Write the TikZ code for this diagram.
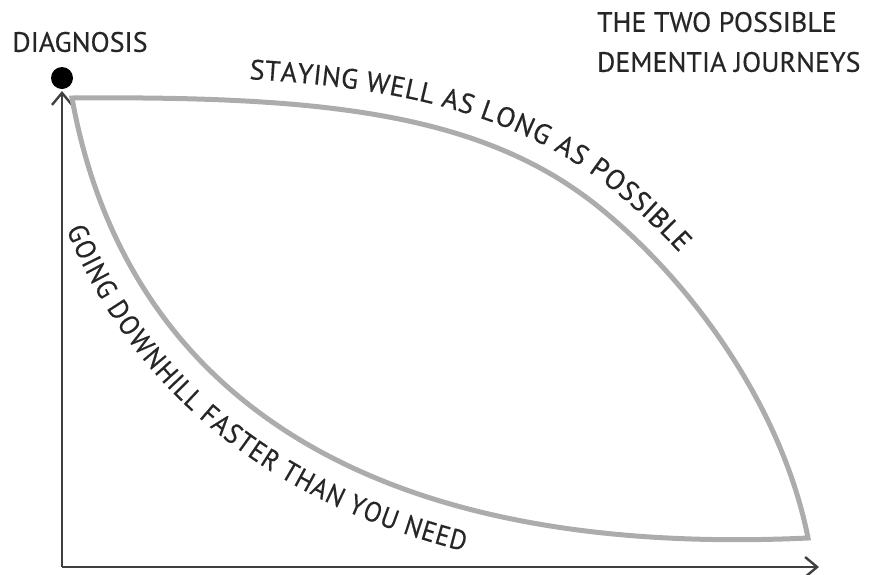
\documentclass[tikz,border=0pt]{standalone}
\usepackage{fontspec}
\setmainfont{PT Sans}[FakeBold=0.4]
\newfontfamily\narrowhand{PT Sans}[FakeStretch=0.92, FakeBold=0.4]
\usetikzlibrary{arrows.meta, decorations.text}
\newcommand{\handfont}{\fontsize{14}{20}\selectfont}
\newcommand{\handnarrow}{\narrowhand\fontsize{14}{20}\selectfont}
\tikzset{
  journey/.style={draw=gray!65, line width=2.5pt, line join=miter},
  axisline/.style={draw=black!75, line width=1.2pt, -{Straight Barb[length=6pt, width=10pt]}},
  handtext/.style={font=\handfont, text=black!85},
  pathtext/.style={decorate, decoration={text along path, text color=black!85}}
}
\begin{document}
\begin{tikzpicture}[x=0.5pt, y=-0.5pt]
  \useasboundingbox (0,0) rectangle (870,574);
  % axes
  \coordinate (origin) at (62,567);
  \coordinate (ytip) at (62,91);
  \coordinate (xtip) at (819,567);
  \draw[axisline] (origin) -- (ytip);
  \draw[axisline] (origin) -- (xtip);

  % diagnosis
  \node[circle, fill=black, inner sep=0pt, minimum size=11pt] (dot) at (62,78) {};
  \node[handtext] (diag) at (80,42) {DIAGNOSIS};

  % title
  \node[handtext, anchor=west, align=left] (title) at (590,42) {THE TWO POSSIBLE\\DEMENTIA JOURNEYS};

  % the two journeys
  \coordinate (start) at (72,98);
  \coordinate (bend) at (600,208);
  \coordinate (finish) at (808,538);
  \draw[journey] (start) .. controls (320,96) and (482,112) .. (bend)
                         .. controls (696,286) and (783,411) .. (finish)
                         .. controls (330,560) and (120,365) .. (start) -- cycle;

  % labels along the curves
  \path[pathtext, decoration={text={|\handfont|STAYING WELL AS LONG AS POSSIBLE},
        raise=11pt, text align={left indent=88pt}}]
    (start) .. controls (320,96) and (482,112) .. (bend)
            .. controls (696,286) and (783,411) .. (finish);
  \path[pathtext, decoration={text={|\handnarrow|GOING DOWNHILL FASTER THAN YOU NEED},
        raise=-21pt, text align={left indent=60pt}}]
    (start) .. controls (120,365) and (330,560) .. (finish);
\end{tikzpicture}
\end{document}
